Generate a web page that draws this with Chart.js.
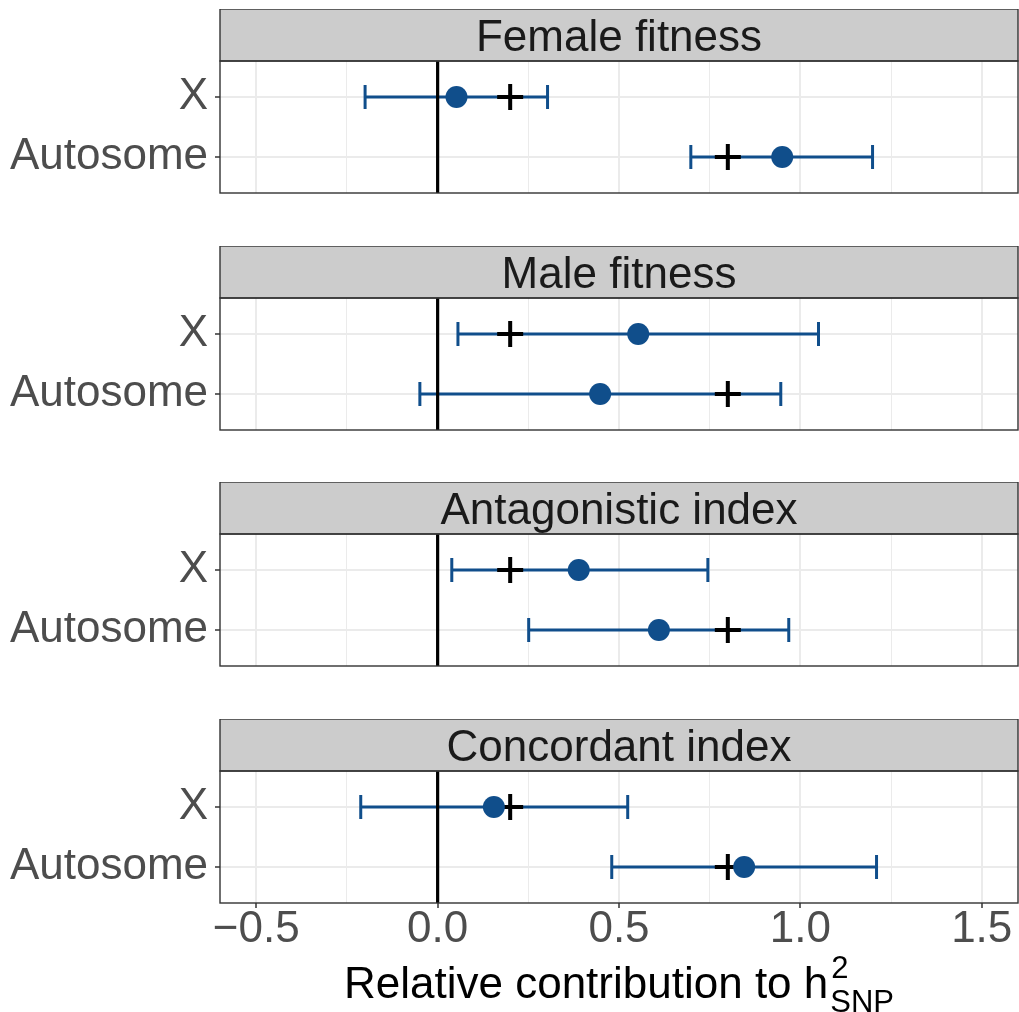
<!DOCTYPE html>
<html>
<head>
<meta charset="utf-8">
<script src="https://cdn.jsdelivr.net/npm/chart.js@4"></script>
<style>
  html, body { margin: 0; padding: 0; background: #ffffff; overflow: hidden; }
  #wrap { position: relative; width: 1019px; height: 1012px; }
  #wrap canvas { position: absolute; left: 0; }
</style>
</head>
<body>
<div id="wrap"></div>
<script>
// Facet titles and row categories
const facets = ['Female fitness', 'Male fitness', 'Antagonistic index', 'Concordant index'];
const regions = ['X', 'Autosome'];

// Point estimates and interval bounds, one row per facet: [X, Autosome]
const estimate = [[0.052, 0.950], [0.553, 0.448], [0.389, 0.610], [0.155, 0.845]];
const lower    = [[-0.200, 0.698], [0.056, -0.049], [0.039, 0.251], [-0.212, 0.480]];
const upper    = [[0.303, 1.199], [1.050, 0.946], [0.745, 0.968], [0.524, 1.210]];

// Expected contribution under proportionality: [X, Autosome]
const expected = [0.2, 0.8];

// Reference line and x-axis ticks
const referenceLine = 0;
const xTicks = [-0.5, -0.25, 0, 0.25, 0.5, 0.75, 1, 1.25, 1.5];
const xMajor = [-0.5, 0, 0.5, 1, 1.5];

const BLUE = '#104E8B';
const FONT = "'Liberation Sans', Arial, Helvetica, sans-serif";
const STRIP = 52;
const PANEL = 132;
const TOPS = [9, 246, 482, 719];
const PAGE_H = 1012;

const isMajor = v => xMajor.some(m => Math.abs(m - v) < 1e-9);
const fmt = v => (v < 0 ? '\u2212' : '') + Math.abs(v).toFixed(1);
const noPadding = s => { s.paddingTop = 0; s.paddingBottom = 0; s.paddingLeft = 0; s.paddingRight = 0; };

// Strip header and panel frame
const facetFrame = {
  id: 'facetFrame',
  beforeDraw(chart) {
    const { ctx, chartArea: ca } = chart;
    ctx.save();
    ctx.fillStyle = '#CCCCCC';
    ctx.fillRect(ca.left, ca.top - STRIP, ca.right - ca.left, STRIP);
    ctx.restore();
  },
  afterDraw(chart, args, opts) {
    const { ctx, chartArea: ca } = chart;
    ctx.save();
    ctx.strokeStyle = '#333333';
    ctx.lineWidth = 1.4;
    ctx.strokeRect(ca.left, ca.top - STRIP, ca.right - ca.left, STRIP);
    ctx.strokeRect(ca.left, ca.top, ca.right - ca.left, ca.bottom - ca.top);
    ctx.fillStyle = '#1A1A1A';
    ctx.font = '44px ' + FONT;
    ctx.textAlign = 'center';
    ctx.textBaseline = 'alphabetic';
    ctx.fillText(opts.title, (ca.left + ca.right) / 2, ca.top - STRIP + 41.5);
    ctx.restore();
  }
};

// Axis title with superscript and subscript
const axisTitle = {
  id: 'axisTitle',
  afterDraw(chart, args, opts) {
    if (!opts.show) return;
    const { ctx, chartArea: ca } = chart;
    const main = 'Relative contribution to h';
    ctx.save();
    ctx.fillStyle = '#000000';
    ctx.textAlign = 'left';
    ctx.textBaseline = 'alphabetic';
    ctx.font = '44px ' + FONT;
    const wMain = ctx.measureText(main).width;
    ctx.font = '31px ' + FONT;
    const wSup = ctx.measureText('2').width;
    const wSub = ctx.measureText('SNP').width;
    const gap = 2;
    const total = wMain + gap + Math.max(wSup, wSub);
    const x0 = (ca.left + ca.right) / 2 - total / 2;
    ctx.font = '44px ' + FONT;
    ctx.fillText(main, x0, ca.bottom + 95);
    ctx.font = '31px ' + FONT;
    ctx.fillText('2', x0 + wMain + gap + 1, ca.bottom + 75);
    ctx.fillText('SNP', x0 + wMain + gap, ca.bottom + 109);
    ctx.restore();
  }
};

const wrap = document.getElementById('wrap');

facets.forEach((title, i) => {
  const last = i === facets.length - 1;
  const h = last ? PAGE_H - TOPS[i] : STRIP + PANEL + 2;
  const canvas = document.createElement('canvas');
  canvas.width = 1019;
  canvas.height = h;
  canvas.style.top = TOPS[i] + 'px';
  canvas.style.width = '1019px';
  canvas.style.height = h + 'px';
  wrap.appendChild(canvas);

  const rows = regions.map((r, j) => j + 1);

  const intervalSets = regions.map((r, j) => ({
    data: [{ x: lower[i][j], y: j + 1 }, { x: upper[i][j], y: j + 1 }],
    showLine: true,
    borderColor: BLUE,
    borderWidth: 3,
    pointStyle: 'line',
    rotation: 90,
    pointRadius: 12,
    pointBorderWidth: 3,
    pointBorderColor: BLUE,
    pointBackgroundColor: BLUE
  }));

  new Chart(canvas, {
    type: 'scatter',
    data: {
      datasets: [
        {
          data: regions.map((r, j) => ({ x: estimate[i][j], y: j + 1 })),
          pointStyle: 'circle',
          pointRadius: 11,
          pointBorderWidth: 0,
          pointBackgroundColor: BLUE,
          backgroundColor: BLUE
        },
        {
          data: regions.map((r, j) => ({ x: expected[j], y: j + 1 })),
          pointStyle: 'cross',
          pointRadius: 13,
          pointBorderWidth: 4,
          pointBorderColor: '#000000',
          borderColor: '#000000'
        },
        {
          data: [{ x: referenceLine, y: 0.4 }, { x: referenceLine, y: 2.6 }],
          showLine: true,
          borderColor: '#000000',
          borderWidth: 3.2,
          pointRadius: 0
        },
        ...intervalSets
      ]
    },
    options: {
      responsive: false,
      animation: false,
      events: [],
      layout: { autoPadding: false, padding: { top: STRIP, left: 0, right: 1, bottom: last ? 0 : 2 } },
      plugins: {
        legend: { display: false },
        tooltip: { enabled: false },
        facetFrame: { title },
        axisTitle: { show: last }
      },
      scales: {
        x: {
          type: 'linear',
          min: -0.6,
          max: 1.6,
          afterBuildTicks(s) { s.ticks = xTicks.map(v => ({ value: v })); },
          afterFit(s) { s.height = last ? h - STRIP - PANEL : 0; noPadding(s); },
          border: { display: false },
          grid: {
            color: '#EBEBEB',
            lineWidth: c => (c.tick && isMajor(c.tick.value)) ? 2 : 1,
            drawTicks: last,
            tickLength: 5,
            tickWidth: 1.5,
            tickColor: c => (c.tick && isMajor(c.tick.value)) ? '#333333' : 'rgba(0,0,0,0)'
          },
          ticks: {
            display: last,
            padding: 0,
            color: '#4D4D4D',
            font: { family: FONT, size: 44, lineHeight: 1.0 },
            maxRotation: 0,
            autoSkip: false,
            callback: v => isMajor(v) ? fmt(v) : ''
          }
        },
        y: {
          type: 'linear',
          min: 0.4,
          max: 2.6,
          reverse: true,
          afterBuildTicks(s) { s.ticks = rows.map(v => ({ value: v })); },
          afterFit(s) { s.width = 220; noPadding(s); },
          border: { display: false },
          grid: {
            color: '#EBEBEB',
            lineWidth: 2,
            tickLength: 5,
            tickWidth: 1.5,
            tickColor: '#333333'
          },
          ticks: {
            padding: 7,
            color: '#4D4D4D',
            font: { family: FONT, size: 44 },
            callback: v => regions[Math.round(v) - 1]
          }
        }
      }
    },
    plugins: [facetFrame, axisTitle]
  });
});
</script>
</body>
</html>
